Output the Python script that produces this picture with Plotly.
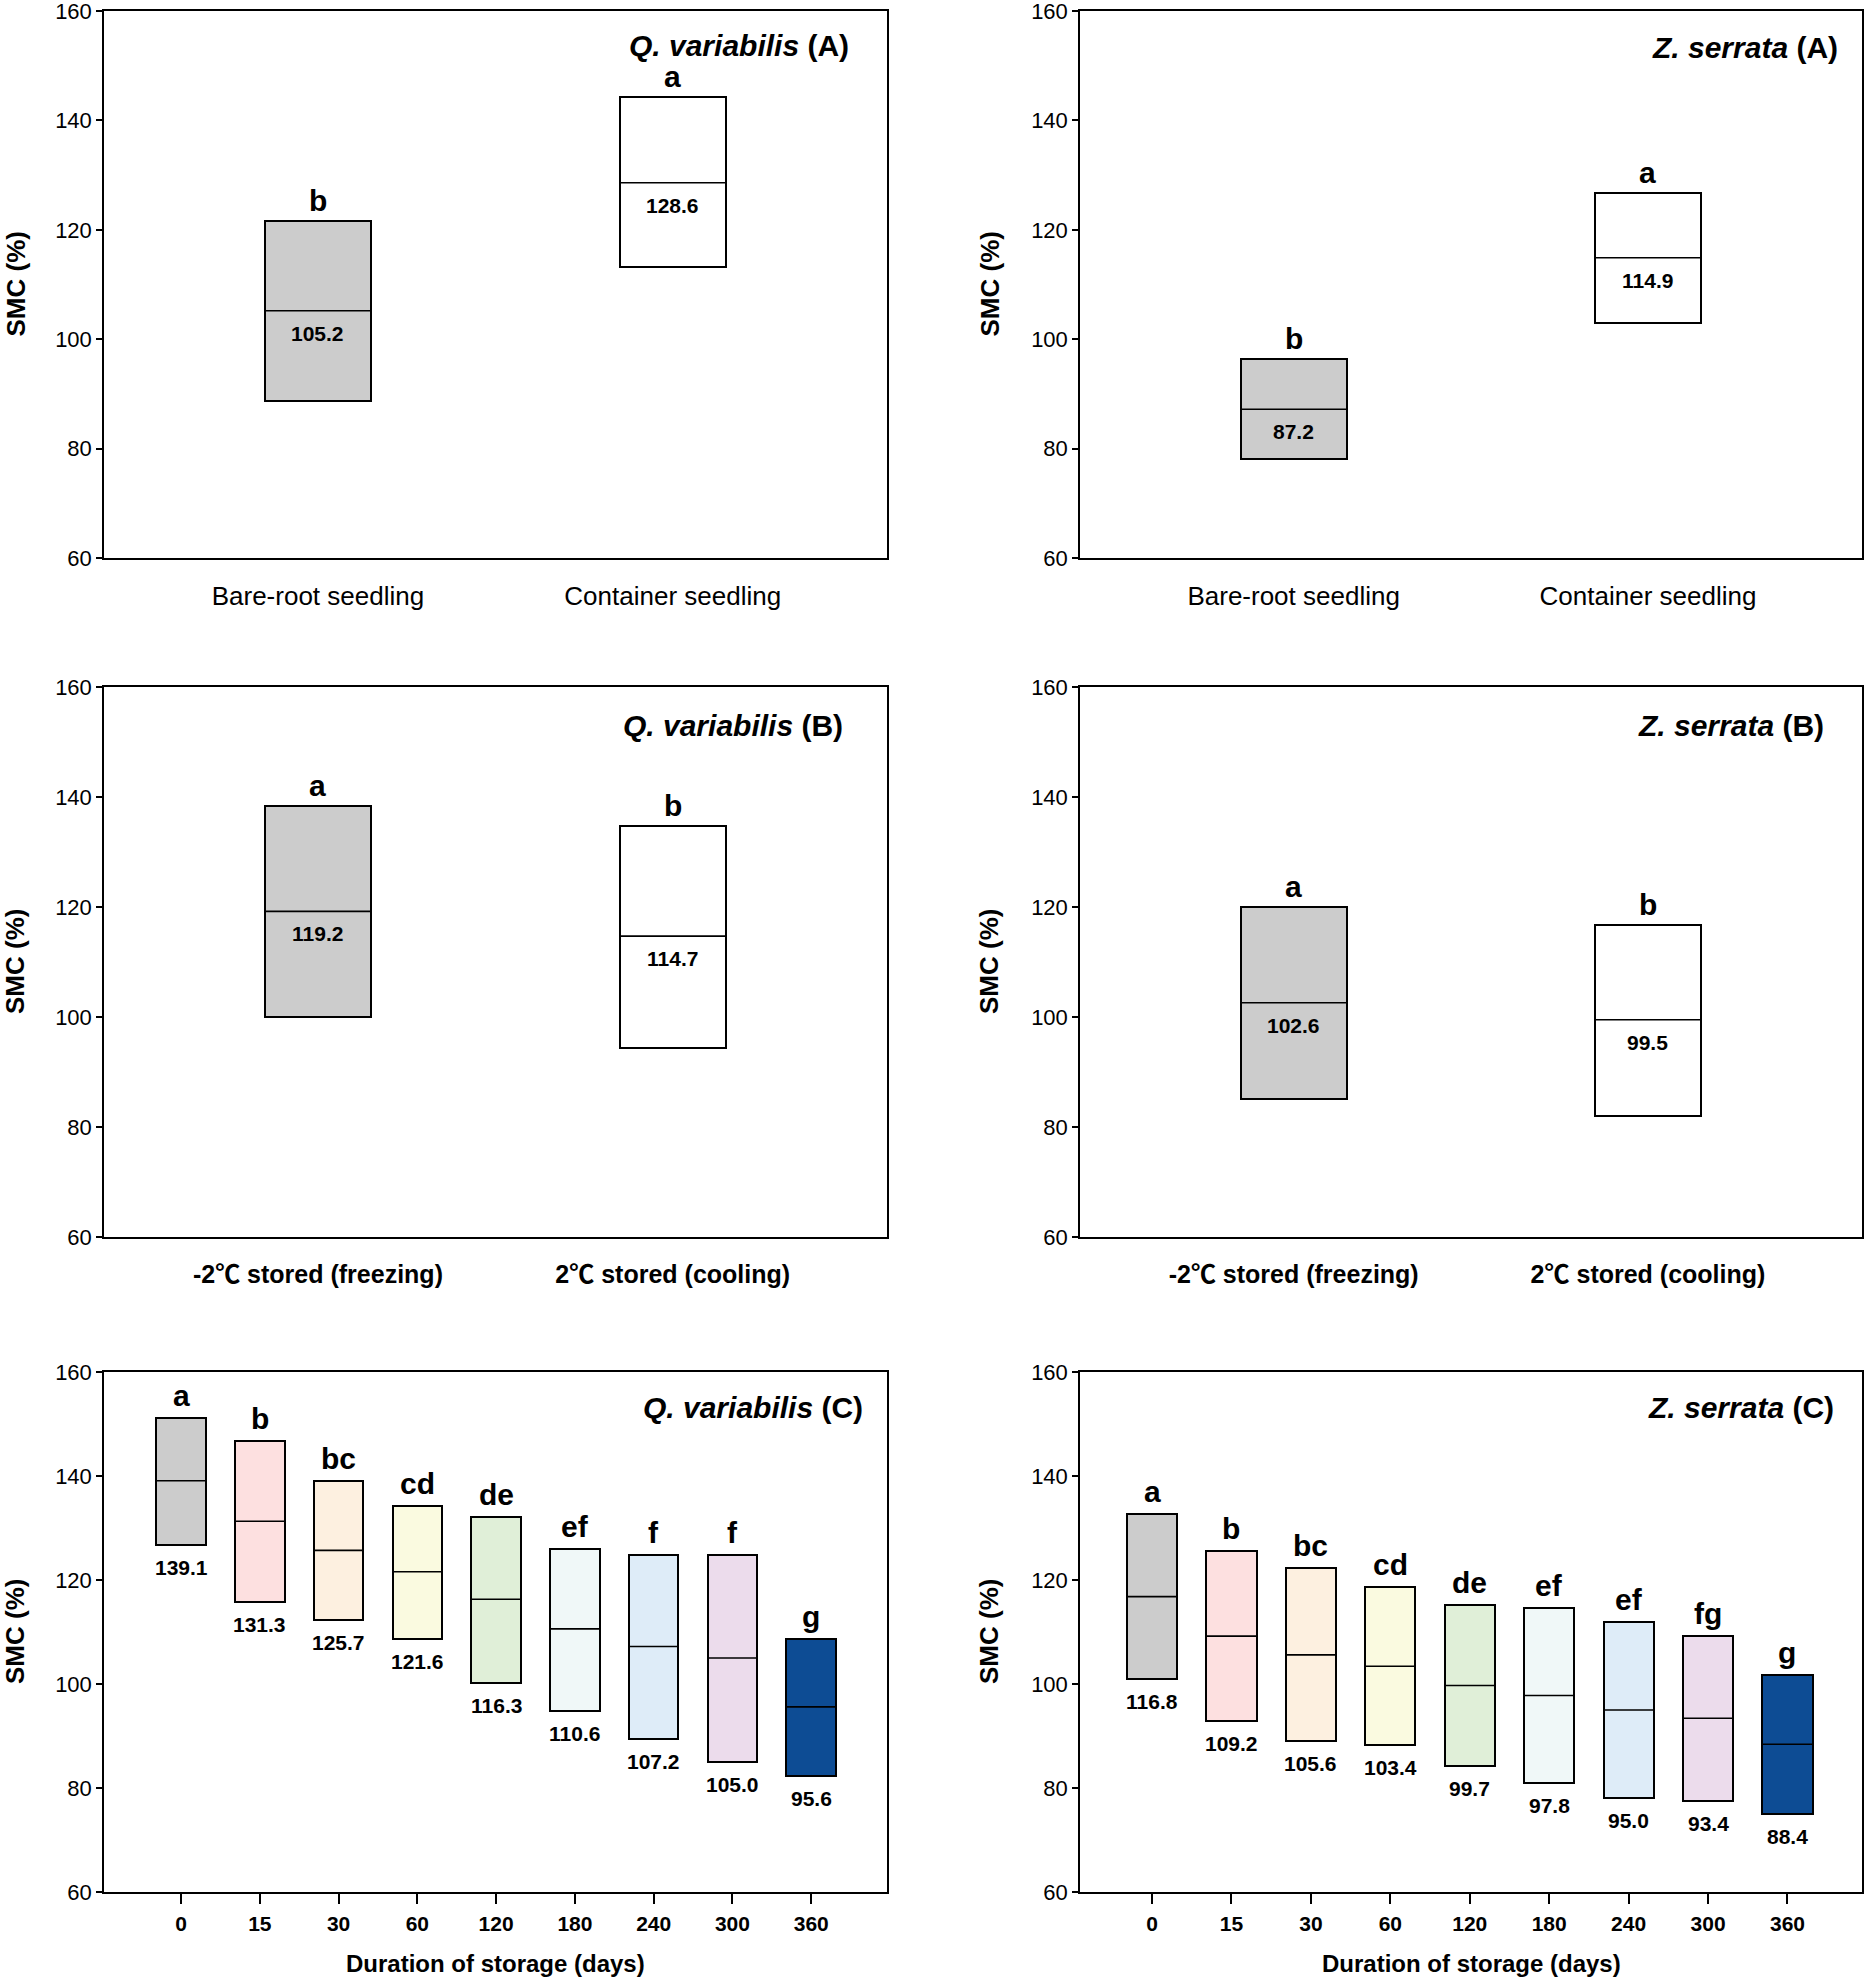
import plotly.graph_objects as go
from plotly.subplots import make_subplots

# ---------------- data ----------------
DEG = "<span style='font-family:Noto Sans CJK KR'>\u2103</span>"
a_cats = ["Bare-root seedling", "Container seedling"]
b_cats = [f"-2{DEG} stored (freezing)", f"2{DEG} stored (cooling)"]
c_days = ["0", "15", "30", "60", "120", "180", "240", "300", "360"]

qa_low = [88.7, 113.2]
qa_high = [121.7, 144.2]
qa_mean = [105.2, 128.6]
qa_letters = ["b", "a"]

za_low = [78.1, 103.0]
za_high = [96.3, 126.8]
za_mean = [87.2, 114.9]
za_letters = ["b", "a"]

qb_low = [100.0, 94.4]
qb_high = [138.4, 134.8]
qb_mean = [119.2, 114.7]
qb_letters = ["a", "b"]

zb_low = [85.1, 82.0]
zb_high = [120.0, 116.8]
zb_mean = [102.6, 99.5]
zb_letters = ["a", "b"]

qc_low = [126.8, 115.8, 112.4, 108.7, 100.2, 94.9, 89.5, 85.0, 82.3]
qc_high = [151.1, 146.7, 139.0, 134.3, 132.2, 125.9, 124.8, 124.8, 108.7]
qc_mean = [139.1, 131.3, 125.7, 121.6, 116.3, 110.6, 107.2, 105.0, 95.6]
qc_letters = ["a", "b", "bc", "cd", "de", "ef", "f", "f", "g"]

zc_low = [101.0, 92.8, 89.0, 88.2, 84.2, 81.0, 78.0, 77.5, 75.0]
zc_high = [132.6, 125.5, 122.3, 118.6, 115.2, 114.7, 111.9, 109.3, 101.8]
zc_mean = [116.8, 109.2, 105.6, 103.4, 99.7, 97.8, 95.0, 93.4, 88.4]
zc_letters = ["a", "b", "bc", "cd", "de", "ef", "ef", "fg", "g"]

ab_colors = ["#cccccc", "#ffffff"]
c_colors = ["#cccccc", "#fde0e0", "#fdf0e0", "#fafae0", "#e0efd8",
            "#f0f8f8", "#deecf8", "#ecdcec", "#0d4c94"]

# ---------------- figure ----------------
FONT = "Liberation Sans, Arial, sans-serif"
W, H = 1867, 1981

fig = make_subplots(rows=3, cols=2)

panels = [
    (1, 1, a_cats, qa_low, qa_high, qa_mean, qa_letters, ab_colors, "<i>Q. variabilis</i> (A)", "A"),
    (1, 2, a_cats, za_low, za_high, za_mean, za_letters, ab_colors, "<i>Z. serrata</i> (A)", "A"),
    (2, 1, b_cats, qb_low, qb_high, qb_mean, qb_letters, ab_colors, "<i>Q. variabilis</i> (B)", "B"),
    (2, 2, b_cats, zb_low, zb_high, zb_mean, zb_letters, ab_colors, "<i>Z. serrata</i> (B)", "B"),
    (3, 1, c_days, qc_low, qc_high, qc_mean, qc_letters, c_colors, "<i>Q. variabilis</i> (C)", "C"),
    (3, 2, c_days, zc_low, zc_high, zc_mean, zc_letters, c_colors, "<i>Z. serrata</i> (C)", "C"),
]

col_x = {1: (104, 887), 2: (1080, 1862)}
row_y = {1: (11, 558), 2: (687, 1237), 3: (1372, 1892)}
title_off = {
    (1, 1): (-36, -16), (1, 2): (-22, -18),
    (2, 1): (-42, -20), (2, 2): (-36, -20),
    (3, 1): (-22, -17), (3, 2): (-26, -17),
}
xranges = {(1, 1): [-0.603, 1.604], (1, 2): [-0.603, 1.604],
           (2, 1): [-0.603, 1.604], (2, 2): [-0.603, 1.604],
           (3, 1): [-0.978, 8.962], (3, 2): [-0.907, 8.938]}

annotations = []
for idx, (r, c, cats, low, high, mean, letters, colors, title, kind) in enumerate(panels):
    n = len(cats)
    pos = list(range(n))
    bw = 0.30 if kind in ("A", "B") else 0.63
    cols = colors if kind == "C" else colors[:n]
    fig.add_trace(go.Bar(
        x=pos, y=[h - l for h, l in zip(high, low)], base=low, width=bw,
        marker=dict(color=cols, line=dict(color="black", width=2)),
        showlegend=False, hoverinfo="skip"), row=r, col=c)
    lx, ly = [], []
    for p, m in zip(pos, mean):
        lx += [p - bw / 2, p + bw / 2, None]
        ly += [m, m, None]
    fig.add_trace(go.Scatter(x=lx, y=ly, mode="lines",
                             line=dict(color="black", width=1.6),
                             showlegend=False, hoverinfo="skip"), row=r, col=c)

    k = idx + 1
    xs = "x" if k == 1 else f"x{k}"
    ys = "y" if k == 1 else f"y{k}"
    x0, x1 = col_x[c]
    yt, yb = row_y[r]
    xdom = [x0 / W, x1 / W]
    ydom = [1 - yb / H, 1 - yt / H]

    xaxis = dict(domain=xdom, range=xranges[(r, c)], tickvals=pos, ticktext=cats,
                 showline=True, linecolor="black", linewidth=1.5, mirror=True,
                 showgrid=False, zeroline=False, automargin=False,
                 ticklabeloverflow="allow")
    if kind == "A":
        xaxis.update(ticks="", tickfont=dict(family=FONT, size=26, color="black"),
                     ticklabelstandoff=14)
    elif kind == "B":
        xaxis.update(ticks="", tickfont=dict(family=FONT, size=25, color="black", weight="bold"),
                     ticklabelstandoff=14)
    else:
        xaxis.update(ticks="outside", ticklen=10, tickwidth=1.5, tickcolor="black",
                     tickfont=dict(family=FONT, size=21, color="black", weight="bold"),
                     ticklabelstandoff=2)
    yaxis = dict(domain=ydom, range=[60, 160], tickvals=[60, 80, 100, 120, 140, 160],
                 ticks="outside", ticklen=6, tickwidth=1.5, tickcolor="black",
                 tickfont=dict(family=FONT, size=22, color="black"),
                 showline=True, linecolor="black", linewidth=1.5, mirror=True,
                 showgrid=False, zeroline=False, automargin=False,
                 ticklabeloverflow="allow")
    fig.layout["xaxis" if k == 1 else f"xaxis{k}"].update(xaxis)
    fig.layout["yaxis" if k == 1 else f"yaxis{k}"].update(yaxis)

    xo, yo = title_off[(r, c)]
    annotations.append(dict(text=f"<b>{title}</b>", xref=f"{xs} domain", yref=f"{ys} domain",
                            x=1, y=1, xanchor="right", yanchor="top", xshift=xo, yshift=yo,
                            showarrow=False, font=dict(family=FONT, size=30, color="black")))
    annotations.append(dict(text="<b>SMC (%)</b>", xref="paper", yref=f"{ys} domain",
                            x=(15 if c == 1 else 989) / W, y=0.5, textangle=-90,
                            xanchor="center", yanchor="middle", showarrow=False,
                            font=dict(family=FONT, size=26, color="black")))
    if kind == "C":
        annotations.append(dict(text="<b>Duration of storage (days)</b>", xref=f"{xs} domain",
                                yref=f"{ys} domain", x=0.5, y=0, yshift=-71,
                                xanchor="center", yanchor="middle", showarrow=False,
                                font=dict(family=FONT, size=24, color="black")))
    for p, h, l, m, let in zip(pos, high, low, mean, letters):
        annotations.append(dict(text=f"<b>{let}</b>", xref=xs, yref=ys, x=p, y=h,
                                xanchor="center", yanchor="bottom",
                                yshift=2 if kind != "C" else 4, showarrow=False,
                                font=dict(family=FONT, size=30, color="black")))
        if kind == "C":
            annotations.append(dict(text=f"<b>{m:.1f}</b>", xref=xs, yref=ys, x=p, y=l,
                                    xanchor="center", yanchor="top", yshift=-9,
                                    showarrow=False,
                                    font=dict(family=FONT, size=21, color="black")))
        else:
            annotations.append(dict(text=f"<b>{m:.1f}</b>", xref=xs, yref=ys, x=p, y=m,
                                    xanchor="center", yanchor="top", yshift=-9,
                                    showarrow=False,
                                    font=dict(family=FONT, size=21, color="black")))

fig.update_layout(width=W, height=H, margin=dict(l=0, r=0, t=0, b=0),
                  paper_bgcolor="white", plot_bgcolor="white",
                  font=dict(family=FONT, color="black"),
                  annotations=annotations, bargap=0, showlegend=False)

fig.write_html("out.html")
